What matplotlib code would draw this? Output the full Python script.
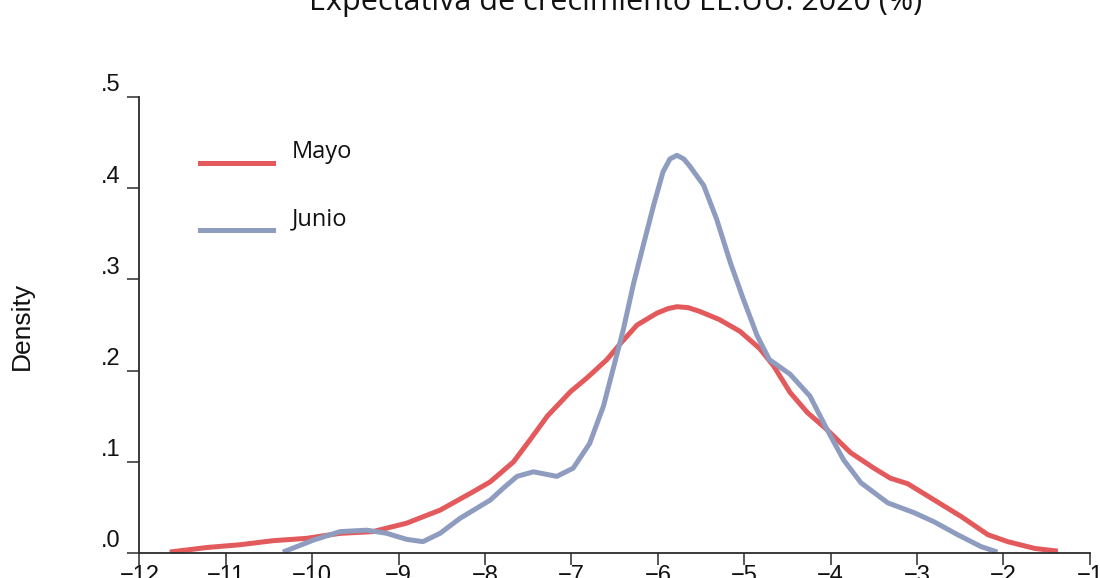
import matplotlib
matplotlib.use("Agg")
import matplotlib.pyplot as plt
from matplotlib.lines import Line2D
from matplotlib.transforms import offset_copy

# Kernel density curves
mayo_x = [-11.65, -11.22, -10.84, -10.45, -10.07, -9.68, -9.30, -8.91, -8.52, -8.14,
          -7.94, -7.67, -7.48, -7.28, -7.01, -6.82, -6.59, -6.43, -6.24, -6.01,
          -5.88, -5.78, -5.65, -5.52, -5.29, -5.05, -4.82, -4.66, -4.47, -4.27,
          -4.04, -3.77, -3.50, -3.31, -3.11, -2.80, -2.49, -2.18, -1.95, -1.64, -1.37]
mayo_y = [0.001, 0.006, 0.009, 0.0135, 0.016, 0.0215, 0.0234, 0.0326, 0.047, 0.067,
          0.078, 0.100, 0.124, 0.150, 0.177, 0.192, 0.212, 0.230, 0.250, 0.263,
          0.268, 0.270, 0.269, 0.265, 0.256, 0.243, 0.224, 0.205, 0.176, 0.154,
          0.135, 0.110, 0.093, 0.082, 0.076, 0.058, 0.040, 0.020, 0.0124, 0.005, 0.002]

junio_x = [-10.34, -9.99, -9.68, -9.37, -9.14, -8.91, -8.72, -8.52, -8.29, -7.94,
           -7.79, -7.63, -7.44, -7.17, -6.98, -6.79, -6.63, -6.52, -6.40, -6.28,
           -6.17, -6.05, -5.94, -5.86, -5.78, -5.70, -5.63, -5.47, -5.32, -5.16,
           -5.01, -4.85, -4.71, -4.47, -4.24, -4.04, -3.85, -3.65, -3.34, -3.03,
           -2.80, -2.53, -2.26, -2.07]
junio_y = [0.001, 0.014, 0.0234, 0.025, 0.0216, 0.015, 0.0124, 0.0216, 0.038, 0.058,
           0.071, 0.084, 0.089, 0.084, 0.093, 0.120, 0.161, 0.201, 0.245, 0.296,
           0.337, 0.381, 0.418, 0.432, 0.436, 0.432, 0.424, 0.403, 0.366, 0.318,
           0.278, 0.238, 0.212, 0.196, 0.172, 0.135, 0.102, 0.077, 0.055, 0.044,
           0.034, 0.020, 0.007, 0.001]

xticks = list(range(-12, 0))
yticks = [0.0, 0.1, 0.2, 0.3, 0.4, 0.5]
ytick_labels = [".0", ".1", ".2", ".3", ".4", ".5"]

red = "#e35a5d"
blue = "#8e9cbf"
dark = "#2b2b2b"

fig = plt.figure(figsize=(11, 5.78), dpi=100)
ax = fig.add_axes([0.1268, 0.0433, 0.864, 0.789])

ax.plot(mayo_x, mayo_y, color=red, lw=3.6, solid_capstyle="butt", solid_joinstyle="round")
ax.plot(junio_x, junio_y, color=blue, lw=3.6, solid_capstyle="butt", solid_joinstyle="round")

ax.set_xlim(-12, -1)
ax.set_ylim(0, 0.5)
for s in ["top", "right"]:
    ax.spines[s].set_visible(False)
for s in ["left", "bottom"]:
    ax.spines[s].set_color(dark)
    ax.spines[s].set_linewidth(1.3)

ax.set_xticks(xticks)
ax.set_xticklabels(["\u2212" + str(abs(t)) for t in xticks],
                   fontfamily="Liberation Sans", fontsize=17)
ax.set_yticks(yticks)
ax.set_yticklabels(ytick_labels, fontfamily="Liberation Sans", fontsize=17)
ax.tick_params(axis="both", length=8.5, width=1.1, color=dark, labelcolor="#111111")
ax.tick_params(axis="y", pad=5)
ax.tick_params(axis="x", pad=0.5)
# y labels sit a bit above their ticks in the original
for lab in ax.get_yticklabels():
    lab.set_transform(offset_copy(lab.get_transform(), fig=fig, x=0, y=14, units="dots"))

fig.text(22 / 1100, 1 - 326 / 578, "Density", rotation=90, ha="center", va="center",
         fontfamily="Liberation Sans", fontsize=19, color="#111111")

fig.text(616 / 1100, 1 - 10 / 578, "Expectativa de crecimiento EE.UU. 2020 (%)",
         ha="center", va="baseline", fontfamily="Open Sans", fontsize=22,
         fontweight="medium", color="#111111")

# manual legend
for ypix, col, name in [(163, red, "Mayo"), (230, blue, "Junio")]:
    fig.add_artist(Line2D([200 / 1100, 273 / 1100], [1 - ypix / 578, 1 - ypix / 578],
                          color=col, lw=3.6, transform=fig.transFigure))
    fig.text(292 / 1100, 1 - (ypix - 11) / 578, name, ha="left", va="center",
             fontfamily="Open Sans", fontsize=17, color="#111111")

fig.savefig("out.png", dpi=100, facecolor="white")
